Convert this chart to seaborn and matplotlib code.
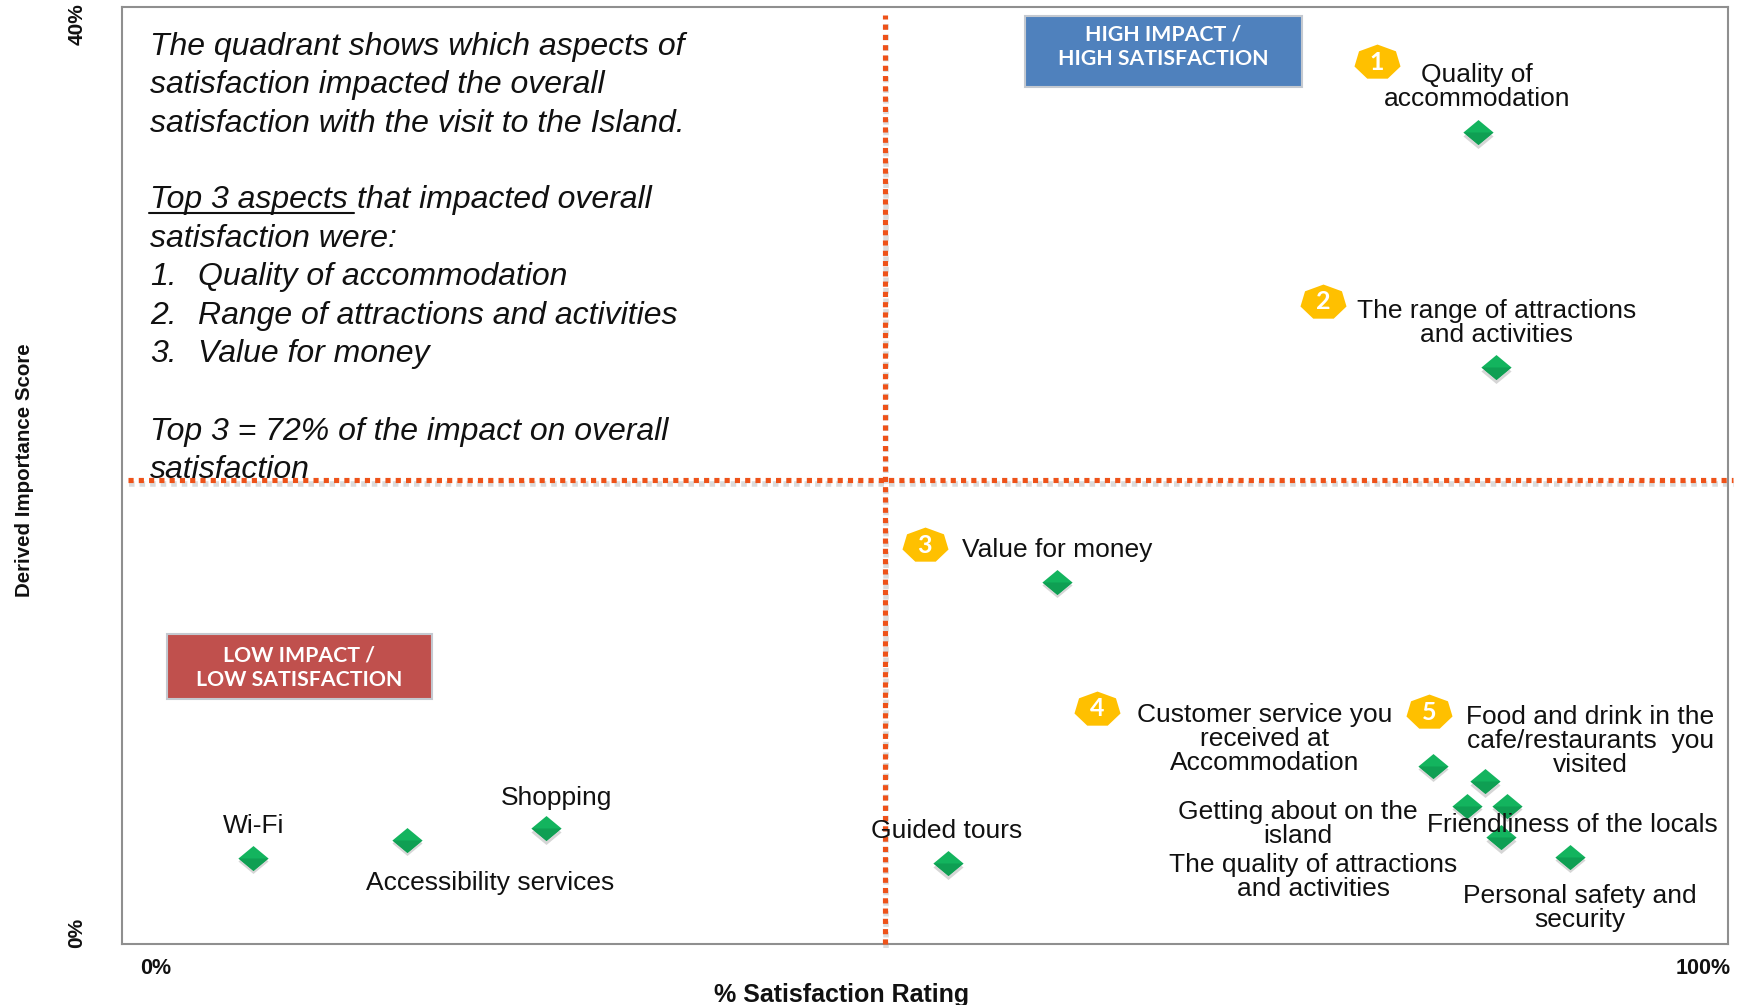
import pandas as pd
import matplotlib.pyplot as plt
import seaborn as sns
from matplotlib.lines import Line2D
from matplotlib.markers import MarkerStyle
from matplotlib.patches import Rectangle
from matplotlib.transforms import Affine2D, ScaledTranslation

aspects = [
    "Quality of\naccommodation",
    "The range of attractions\nand activities",
    "Value for money",
    "Customer service you\nreceived at\nAccommodation",
    "Food and drink in the\ncafe/restaurants  you\nvisited",
    "Getting about on the\nisland",
    "Friendliness of the locals",
    "The quality of attractions\nand activities",
    "Personal safety and\nsecurity",
    "Guided tours",
    "Wi-Fi",
    "Accessibility services",
    "Shopping",
]
satisfaction = [85.4, 86.6, 58.2, 82.5, 85.9, 84.7, 87.3, 86.9, 91.4, 51.2, 6.3, 16.2, 25.2]
importance = [35.25, 24.9, 15.45, 7.35, 6.67, 5.6, 5.6, 4.2, 3.35, 3.05, 3.3, 4.1, 4.6]
split_x = 47.1
split_y = 19.95
x_ticks = [0, 100]
x_tick_labels = ["0%", "100%"]
y_ticks = [0, 40]
y_tick_labels = ["0%", "40%"]

df = pd.DataFrame({"aspect": aspects, "satisfaction": satisfaction, "importance": importance})

# layout is measured in the 1568x903 view of the reference
W, H = 1568, 903
label_centres = [
    (1327, 78), (1345, 290), (950, 494), (1136, 664), (1429, 666), (1166, 740), (1413, 741),
    (1180, 788), (1420, 816), (851, 747), (228, 742), (440, 793), (500, 717),
]
badge_centres = [(1237, 56), (1189, 271), (831, 490), (986, 637), (1284, 640)]
note_lines = [
    (135, 42, "The quadrant shows which aspects of"),
    (135, 76, "satisfaction impacted the overall"),
    (135, 111, "satisfaction with the visit to the Island."),
    (135, 180, "Top 3 aspects"),
    (321, 180, "that impacted overall"),
    (135, 215, "satisfaction were:"),
    (135, 249, "1."),
    (178, 249, "Quality of accommodation"),
    (135, 284, "2."),
    (178, 284, "Range of attractions and activities"),
    (135, 318, "3."),
    (178, 318, "Value for money"),
    (135, 388, "Top 3 = 72% of the impact on overall"),
    (135, 422, "satisfaction"),
]


def fx(px):
    return px / W


def fy(py):
    return 1 - py / H


sns.set_theme(style="white")
plt.rcParams["font.family"] = ["Liberation Sans", "DejaVu Sans"]

fig = plt.figure(figsize=(17.45, 10.05), dpi=100)
ax = fig.add_axes([fx(110), fy(848), (1553 - 110) / W, (848 - 6) / H])

# the diamonds are wider than tall in the reference
diamond = MarkerStyle([(-1, 0), (0, 0.83), (1, 0), (0, -0.83), (-1, 0)])
lower_half = MarkerStyle([(-1, 0), (1, 0), (0, -0.83), (-1, 0)])
shadow = ax.transData + ScaledTranslation(0, -2.5 / 72, fig.dpi_scale_trans)
ax.scatter(df["satisfaction"], df["importance"], s=470, marker=diamond, color="#8a8a8a",
           alpha=0.35, linewidths=0, transform=shadow, zorder=2)
sns.scatterplot(data=df, x="satisfaction", y="importance", marker=diamond, s=467, color="#13B45E",
                linewidth=0, ax=ax, zorder=3)
ax.scatter(df["satisfaction"], df["importance"], s=467, marker=lower_half, color="#0F9F53",
           linewidths=0, zorder=4)

ax.set_xlim(-2.16, 101.6)
ax.set_ylim(-0.49, 40.78)
ax.set_xticks(x_ticks, x_tick_labels, fontweight="bold", fontsize=15.5, color="#111111")
ax.set_yticks(y_ticks, y_tick_labels, fontweight="bold", fontsize=15, color="#111111",
              rotation=90, va="center")
ax.tick_params(axis="x", length=0, pad=10)
ax.tick_params(axis="y", length=0, pad=26)
ax.set_xlabel("% Satisfaction Rating", fontweight="bold", fontsize=18, color="#111111")
ax.set_ylabel("Derived Importance Score", fontweight="bold", fontsize=14.8, color="#111111")
ax.xaxis.set_label_coords(0.448, -0.042)
ax.yaxis.set_label_coords(-0.0548, 0.505)
for spine in ax.spines.values():
    spine.set_color("#8f8f8f")
    spine.set_linewidth(1.5)

# quadrant dividers, each with a faint shadow under it
divider_x = [split_x, split_x], [-0.49, 40.4]
divider_y = [-1.8, 101.9], [split_y, split_y]
for xs, ys in (divider_x, divider_y):
    ax.plot(xs, ys, color="#9a9a9a", alpha=0.35, linewidth=4, linestyle=(0, (1, 0.9)), zorder=4.5,
            clip_on=False, transform=ax.transData + ScaledTranslation(1 / 72, -3 / 72, fig.dpi_scale_trans))
    ax.plot(xs, ys, color="#EE5219", linewidth=3.7, linestyle=(0, (1, 1)), zorder=5, clip_on=False)

# corner boxes
for x0, y0, x1, y1, colour, lines in [
    (921, 14, 1170, 78, "#4F81BD", [(31, "HIGH IMPACT /"), (53, "HIGH SATISFACTION")]),
    (150, 570, 388, 628, "#C0504D", [(589, "LOW IMPACT /"), (611, "LOW SATISFACTION")]),
]:
    fig.add_artist(Rectangle((fx(x0), fy(y1)), (x1 - x0) / W, (y1 - y0) / H, transform=fig.transFigure,
                             facecolor=colour, edgecolor="#c4c9d0", linewidth=1.5, zorder=6))
    for py, line in lines:
        fig.text(fx((x0 + x1) / 2), fy(py), line, ha="center", va="center", color="white",
                 family="Lato", fontweight="bold", fontsize=15.3, zorder=7)

# numbered badges, squashed heptagons
badge = MarkerStyle((7, 0, 0), transform=Affine2D().scale(1, 0.76))
for i, (px, py) in enumerate(badge_centres, start=1):
    fig.add_artist(Line2D([fx(px)], [fy(py)], transform=fig.transFigure, marker=badge, markersize=34,
                          color="#FFC000", markeredgewidth=0, zorder=6))
    fig.text(fx(px), fy(py), str(i), ha="center", va="center", color="white", family="Lato",
             fontweight="bold", fontsize=18, zorder=7)

# point labels
for label, (px, py) in zip(df["aspect"], label_centres):
    fig.text(fx(px), fy(py), label, ha="center", va="center", ma="center", fontsize=19,
             linespacing=1.0, color="#111111", zorder=8)

# explanatory note
for px, py, line in note_lines:
    fig.text(fx(px), fy(py), line, ha="left", va="center", style="italic", fontsize=23,
             color="#111111", zorder=8)
fig.add_artist(Line2D([fx(134), fx(318)], [fy(191), fy(191)], transform=fig.transFigure, color="#111111",
                      linewidth=1.5, zorder=8))

fig.savefig("out.png", dpi=100)
